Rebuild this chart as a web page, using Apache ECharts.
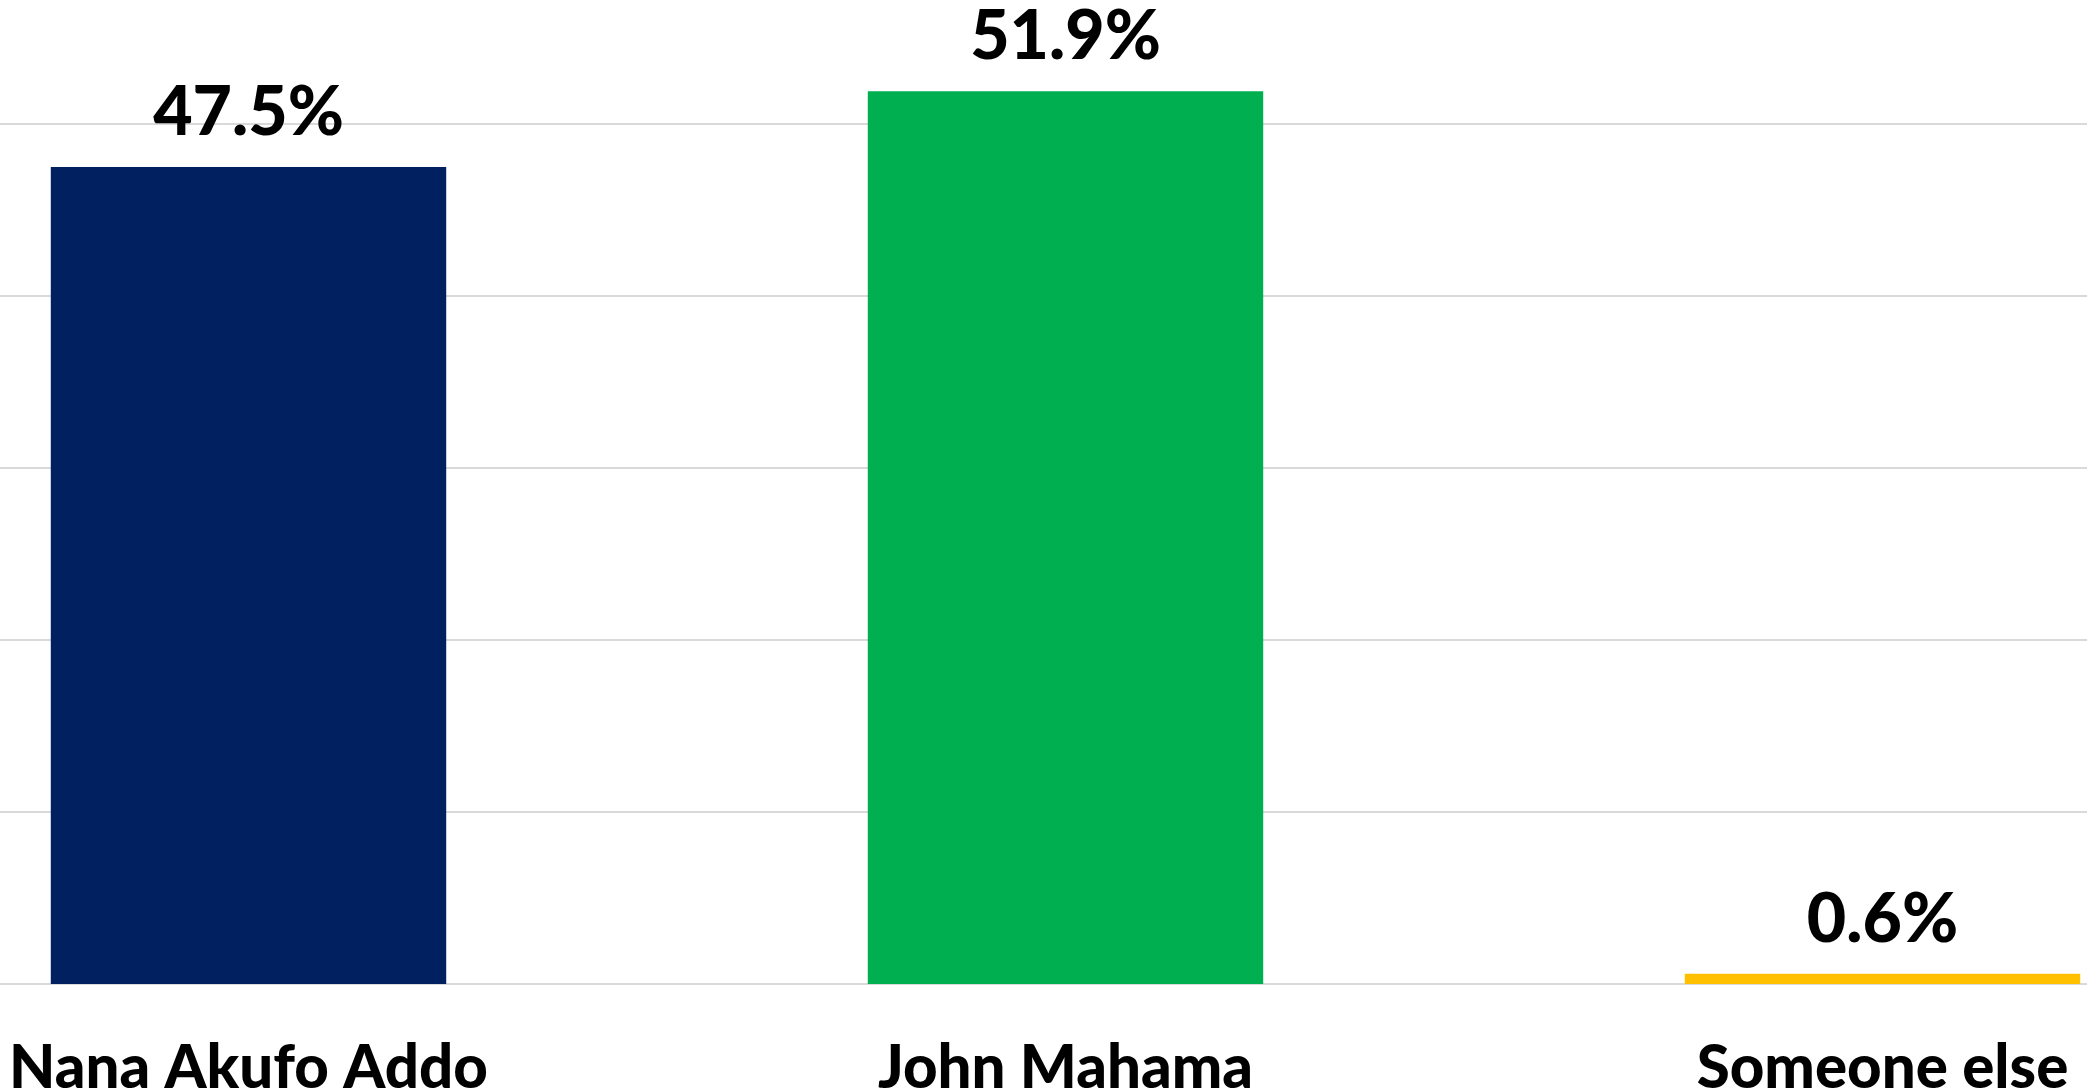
<!DOCTYPE html>
<html>
<head>
<meta charset="utf-8">
<title>Vote share</title>
<script src="https://cdn.jsdelivr.net/npm/echarts@6/dist/echarts.min.js"></script>
<style>
  html, body { margin: 0; padding: 0; background: #ffffff; }
  #chart { width: 2087px; height: 1092px; }
</style>
</head>
<body>
<div id="chart"></div>
<script>
// data
const candidates = ['Nana Akufo Addo', 'John Mahama', 'Someone else'];
const shares = [47.5, 51.9, 0.6];
const barColors = ['#002060', '#00B050', '#FFC000'];

const chart = echarts.init(document.getElementById('chart'), null, { renderer: 'canvas' });

const font = 'Lato, "Open Sans", sans-serif';
const weight = 900;

const option = {
  backgroundColor: '#ffffff',
  animation: false,
  // plot area runs past the canvas edges, the reference is a crop
  grid: { left: -160, right: -204, top: -48, bottom: 108, outerBoundsMode: 'none', containLabel: false },
  xAxis: {
    type: 'category',
    data: candidates,
    axisLine: { show: false },
    axisTick: { show: false },
    axisLabel: {
      margin: 55,
      color: '#000000',
      fontFamily: font,
      fontWeight: weight,
      fontSize: 60
    }
  },
  yAxis: {
    type: 'value',
    min: 0,
    max: 60,
    interval: 10,
    axisLabel: { show: false },
    axisLine: { show: false },
    axisTick: { show: false },
    splitLine: { lineStyle: { color: '#d9d9d9', width: 2 } }
  },
  series: [{
    type: 'bar',
    barWidth: '48.4%',
    data: shares.map(function (v, i) {
      return { value: v, itemStyle: { color: barColors[i] } };
    }),
    label: {
      show: true,
      position: 'top',
      distance: 20,
      color: '#000000',
      fontFamily: font,
      fontWeight: weight,
      fontSize: 68,
      formatter: function (p) { return p.value.toFixed(1) + '%'; }
    }
  }]
};

chart.setOption(option);
</script>
</body>
</html>
